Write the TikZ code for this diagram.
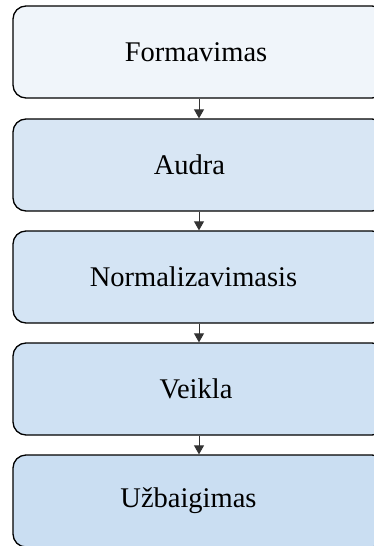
\documentclass[tikz,border=0pt]{standalone}
\usepackage{fontspec}
\setmainfont{Liberation Serif}
\usetikzlibrary{arrows.meta}
\definecolor{fA}{HTML}{F0F5FA}
\definecolor{fB}{HTML}{D8E6F4}
\definecolor{fC}{HTML}{D4E4F4}
\definecolor{fD}{HTML}{CFE1F3}
\definecolor{fE}{HTML}{CADEF2}
\tikzset{
  stage/.style={draw=black, line width=1.3pt, rounded corners=13pt, minimum width=372pt, minimum height=92pt, inner sep=0pt, font=\fontsize{28.5}{32}\selectfont, text=black},
  link/.style={draw=black!80, line width=0.9pt, -{Triangle[length=9pt,width=10pt]}}
}
\begin{document}
\begin{tikzpicture}[x=1pt,y=-1pt]
\useasboundingbox (0,0) rectangle (374,546);
\clip (0,0) rectangle (374,546);
\node[stage, fill=fA] (a) at (199,52) {\hspace*{-6pt}Formavimas};
\node[stage, fill=fB] (b) at (199,165) {\hspace*{-19pt}Audra};
\node[stage, fill=fC] (c) at (199,277) {\hspace*{-11pt}Normalizavimasis};
\node[stage, fill=fD] (d) at (199,389) {\hspace*{-6pt}Veikla};
\node[stage, fill=fE] (e) at (199,501) {\hspace*{-21pt}Užbaigimas};
\draw[link] (a) -- (b);
\draw[link] (b) -- (c);
\draw[link] (c) -- (d);
\draw[link] (d) -- (e);
\end{tikzpicture}
\end{document}
